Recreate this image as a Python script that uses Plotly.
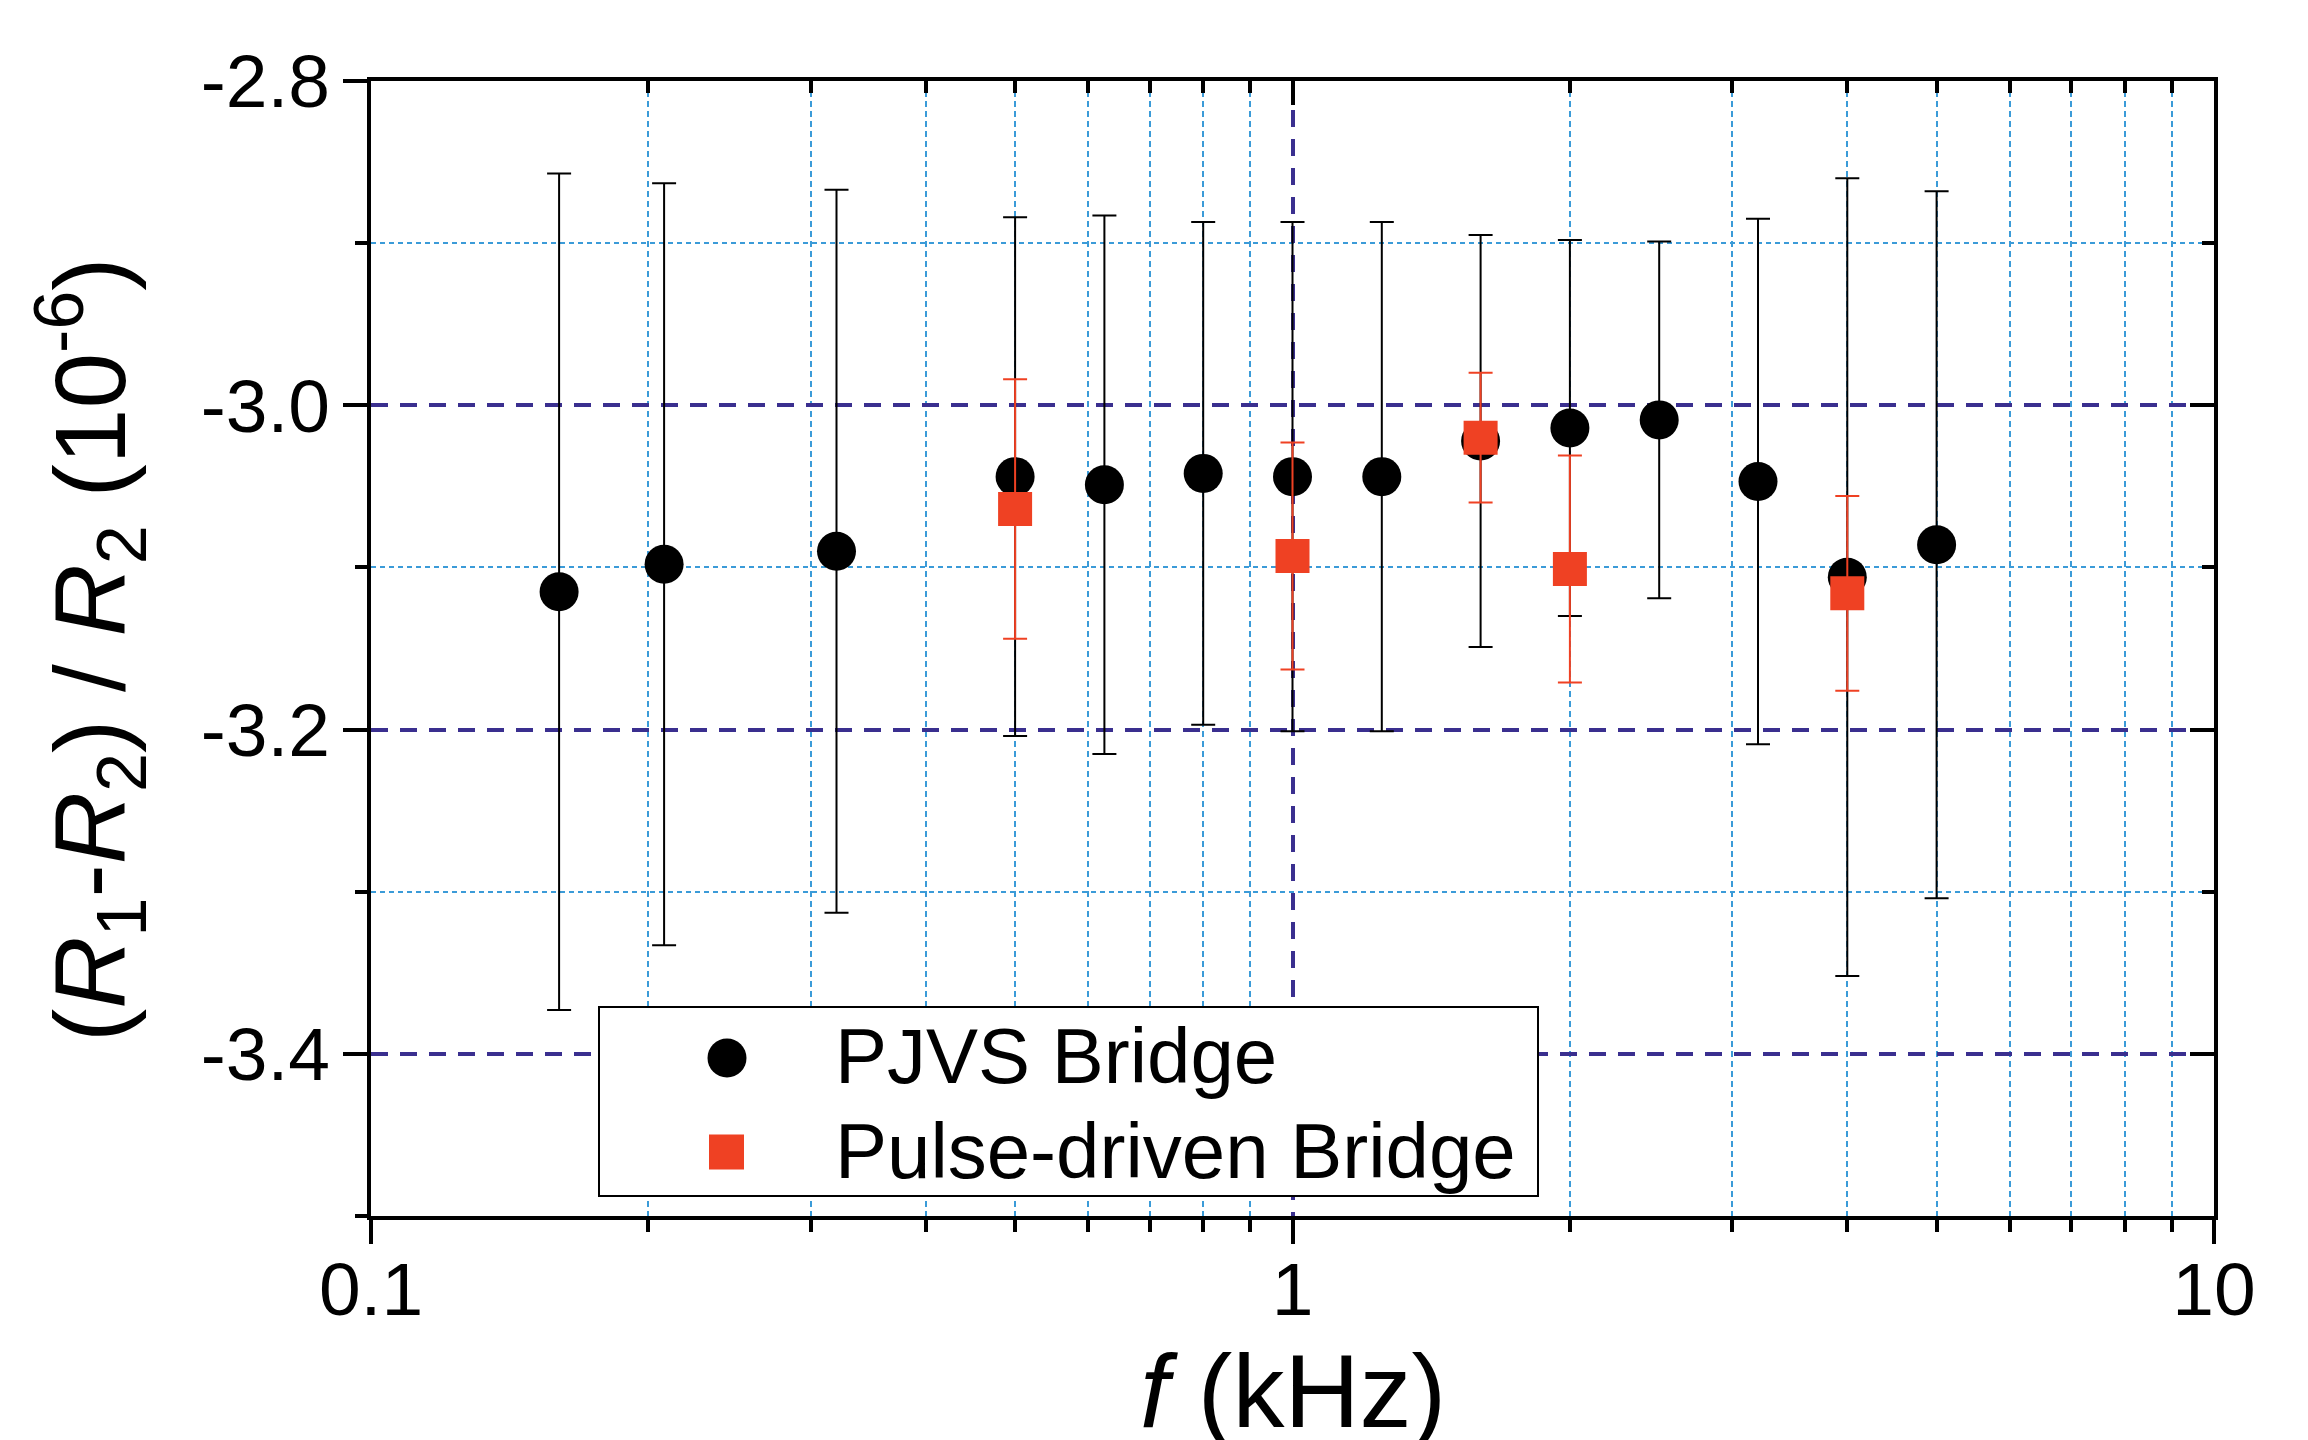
import plotly.graph_objects as go

# ---------------- data ----------------
f_pjvs = [0.16, 0.208, 0.32, 0.5, 0.625, 0.8, 1.0, 1.25, 1.6, 2.0, 2.5, 3.2, 4.0, 5.0]
v_pjvs = [-3.115, -3.098, -3.090, -3.044, -3.049, -3.042, -3.044, -3.044, -3.022, -3.014, -3.009, -3.047, -3.106, -3.086]
e_pjvs = [0.258, 0.235, 0.223, 0.160, 0.166, 0.155, 0.157, 0.157, 0.127, 0.116, 0.110, 0.162, 0.246, 0.218]

f_pulse = [0.5, 1.0, 1.6, 2.0, 4.0]
v_pulse = [-3.064, -3.093, -3.020, -3.101, -3.116]
e_pulse = [0.080, 0.070, 0.040, 0.070, 0.060]

x_major = [0.1, 1, 10]
x_major_text = ["0.1", "1", "10"]
x_minor = [0.2, 0.3, 0.4, 0.5, 0.6, 0.7, 0.8, 0.9, 2, 3, 4, 5, 6, 7, 8, 9]
y_major = [-2.8, -3.0, -3.2, -3.4]
y_major_text = ["-2.8", "-3.0", "-3.2", "-3.4"]
y_minor = [-2.9, -3.1, -3.3, -3.5]

legend_names = ["PJVS Bridge", "Pulse-driven Bridge"]

# ---------------- style ----------------
OFF = 8                      # default page body margin of the written html
W, H = 2308 - OFF, 1440 - OFF
# plot area in page pixels: x 371..2214, y 81..1216
L, T = 371 - OFF, 81 - OFF
R = W - (2214 - OFF)
B = H - (1216 - OFF)
PW, PH = W - L - R, H - T - B
FONT = "Liberation Sans, Arial, sans-serif"
BLACK = "#000000"
RED = "#EF4123"
NAVY = "#3A2F8F"
LBLUE = "#3B9BD8"


def px(xp):
    """page pixel x -> paper coordinate"""
    return (xp - OFF - L) / PW


def py(yp):
    """page pixel y -> paper coordinate"""
    return (H - B - (yp - OFF)) / PH


fig = go.Figure()

fig.add_trace(go.Scatter(
    x=f_pjvs, y=v_pjvs, mode="markers", name=legend_names[0], showlegend=False,
    marker=dict(symbol="circle", size=39, color=BLACK, line=dict(width=0)),
    error_y=dict(type="data", array=e_pjvs, visible=True, color=BLACK, thickness=2, width=12),
))
fig.add_trace(go.Scatter(
    x=f_pulse, y=v_pulse, mode="markers", name=legend_names[1], showlegend=False,
    marker=dict(symbol="square", size=34, color=RED, line=dict(width=0)),
    error_y=dict(type="data", array=e_pulse, visible=True, color=RED, thickness=2, width=12),
))
# dummy trace to activate the mirrored (inside) tick axes
fig.add_trace(go.Scatter(x=[None], y=[None], xaxis="x2", yaxis="y2", showlegend=False, hoverinfo="skip"))

tickfont = dict(family=FONT, size=75, color=BLACK)

fig.update_layout(
    width=W, height=H,
    margin=dict(l=L, r=R, t=T, b=B),
    paper_bgcolor="white", plot_bgcolor="white",
    showlegend=False,
    xaxis=dict(
        type="log", range=[-1, 1], showline=True, linewidth=4, linecolor=BLACK, mirror=True,
        tickmode="array", tickvals=x_major, ticktext=x_major_text,
        ticks="outside", ticklen=24, tickwidth=4, tickcolor=BLACK,
        tickfont=tickfont, ticklabelstandoff=-19,
        showgrid=True, gridcolor=NAVY, gridwidth=3.5, griddash="17px,12px",
        zeroline=False,
        minor=dict(tickmode="array", tickvals=x_minor, ticks="outside", ticklen=12, tickwidth=4,
                   tickcolor=BLACK, showgrid=True, gridcolor=LBLUE, gridwidth=1.5, griddash="6px,4px"),
    ),
    yaxis=dict(
        range=[-3.5, -2.8], showline=True, linewidth=4, linecolor=BLACK, mirror=True,
        tickmode="array", tickvals=y_major, ticktext=y_major_text,
        ticks="outside", ticklen=24, tickwidth=4, tickcolor=BLACK,
        tickfont=tickfont, ticklabelstandoff=-2,
        showgrid=True, gridcolor=NAVY, gridwidth=3.5, griddash="17px,12px",
        zeroline=False,
        minor=dict(tickmode="array", tickvals=y_minor, ticks="outside", ticklen=12, tickwidth=4,
                   tickcolor=BLACK, showgrid=True, gridcolor=LBLUE, gridwidth=1.5, griddash="5px,4px"),
    ),
    xaxis2=dict(
        type="log", range=[-1, 1], overlaying="x", side="top", anchor="y2",
        tickmode="array", tickvals=x_major, ticks="inside", ticklen=24, tickwidth=4, tickcolor=BLACK,
        showticklabels=False, showgrid=False, showline=False, zeroline=False,
        minor=dict(tickmode="array", tickvals=x_minor, ticks="inside", ticklen=12, tickwidth=4,
                   tickcolor=BLACK, showgrid=False),
    ),
    yaxis2=dict(
        range=[-3.5, -2.8], overlaying="y", side="right", anchor="x2",
        tickmode="array", tickvals=y_major, ticks="inside", ticklen=24, tickwidth=4, tickcolor=BLACK,
        showticklabels=False, showgrid=False, showline=False, zeroline=False,
        minor=dict(tickmode="array", tickvals=y_minor, ticks="inside", ticklen=12, tickwidth=4,
                   tickcolor=BLACK, showgrid=False),
    ),
)

# axis titles
fig.add_annotation(
    xref="paper", yref="paper", x=px(90), y=py(650), xanchor="center", yanchor="middle",
    textangle=-90, showarrow=False,
    text="(<i>R</i><sub>1</sub>-<i>R</i><sub>2</sub>) / <i>R</i><sub>2</sub> (10<sup>-6</sup>)",
    font=dict(family=FONT, size=100, color=BLACK),
)
fig.add_annotation(
    xref="paper", yref="paper", x=px(1293), y=py(1391), xanchor="center", yanchor="middle",
    showarrow=False, text="<i>f</i> (kHz)",
    font=dict(family=FONT, size=104, color=BLACK),
)

# custom legend (box, symbols, labels)
fig.add_shape(type="rect", xref="paper", yref="paper", layer="above",
              x0=px(599), x1=px(1538), y0=py(1196), y1=py(1007),
              line=dict(color=BLACK, width=2), fillcolor="white")
fig.add_shape(type="circle", xref="paper", yref="paper", layer="above",
              x0=px(727 - 19.5), x1=px(727 + 19.5), y0=py(1058 + 19.5), y1=py(1058 - 19.5),
              line=dict(width=0), fillcolor=BLACK)
fig.add_shape(type="rect", xref="paper", yref="paper", layer="above",
              x0=px(726.5 - 17.5), x1=px(726.5 + 17.5), y0=py(1152 + 17.5), y1=py(1152 - 17.5),
              line=dict(width=0), fillcolor=RED)
for name, yc in zip(legend_names, [1056, 1151]):
    fig.add_annotation(xref="paper", yref="paper", x=px(833), y=py(yc), xanchor="left", yanchor="middle",
                       showarrow=False, text=name, font=dict(family=FONT, size=78, color=BLACK))

fig.write_html("out.html")
